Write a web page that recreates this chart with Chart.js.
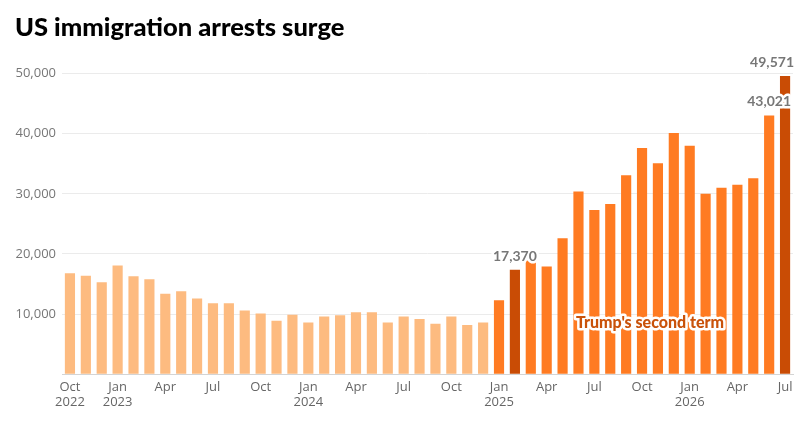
<!DOCTYPE html>
<html>
<head>
<meta charset="utf-8">
<script src="https://cdn.jsdelivr.net/npm/chart.js@4"></script>
<style>
  html, body { margin: 0; padding: 0; background: #fff; }
  #wrap { width: 812px; height: 426px; position: relative; }
</style>
</head>
<body>
<div id="wrap"><canvas id="chart"></canvas></div>
<script>
// ─── Data ───────────────────────────────────────────
var months = ['Oct', 'Nov', 'Dec',
  'Jan', 'Feb', 'Mar', 'Apr', 'May', 'Jun', 'Jul', 'Aug', 'Sep', 'Oct', 'Nov', 'Dec',
  'Jan', 'Feb', 'Mar', 'Apr', 'May', 'Jun', 'Jul', 'Aug', 'Sep', 'Oct', 'Nov', 'Dec',
  'Jan', 'Feb', 'Mar', 'Apr', 'May', 'Jun', 'Jul', 'Aug', 'Sep', 'Oct', 'Nov', 'Dec',
  'Jan', 'Feb', 'Mar', 'Apr', 'May', 'Jun', 'Jul'];
var years = ['2022', '', '',
  '2023', '', '', '', '', '', '', '', '', '', '', '',
  '2024', '', '', '', '', '', '', '', '', '', '', '',
  '2025', '', '', '', '', '', '', '', '', '', '', '',
  '2026', '', '', '', '', '', ''];
var arrests = [16800, 16400, 15300,
  18100, 16300, 15800, 13400, 13800, 12600, 11800, 11800, 10600, 10100, 8900, 9900,
  8600, 9600, 9800, 10300, 10300, 8600, 9600, 9200, 8400, 9600, 8200, 8600,
  12300, 17370, 18900, 17900, 22600, 30400, 27300, 28300, 33100, 37600, 35100, 40100,
  38000, 30000, 31000, 31500, 32600, 43021, 49571];
// periodo: 0 = antes, 1 = segundo mandato, 2 = destacado
var period = [0, 0, 0,
  0, 0, 0, 0, 0, 0, 0, 0, 0, 0, 0, 0,
  0, 0, 0, 0, 0, 0, 0, 0, 0, 0, 0, 0,
  1, 2, 1, 1, 1, 1, 1, 1, 1, 1, 1, 1,
  1, 1, 1, 1, 1, 1, 2];
var valueLabels = [28, 44, 45];   // indices with a number on top
var yTicks = [0, 10000, 20000, 30000, 40000, 50000];

var colors = ['#fdbb80', '#ff7b22', '#c94c05'];

// ─── Labels plugin ──────────────────────────────────
var labelsPlugin = {
  id: 'labels',
  afterDatasetsDraw: function (chart) {
    var ctx = chart.ctx;
    var meta = chart.getDatasetMeta(0);
    var xs = chart.scales.x, ys = chart.scales.y;
    ctx.save();
    ctx.lineJoin = 'round';

    // Trump's second term
    ctx.font = '900 16px Lato';
    ctx.textAlign = 'center';
    ctx.textBaseline = 'middle';
    var ax = (xs.getPixelForValue(36) + xs.getPixelForValue(37)) / 2;
    var ay = ys.getPixelForValue(8600);
    ctx.strokeStyle = '#fff';
    ctx.lineWidth = 5;
    ctx.strokeText("Trump's second term", ax, ay);
    ctx.fillStyle = '#c9520a';
    ctx.fillText("Trump's second term", ax, ay);

    // value labels
    ctx.font = 'bold 14px Lato';
    ctx.textBaseline = 'alphabetic';
    for (var k = 0; k < valueLabels.length; k++) {
      var i = valueLabels[k];
      var bar = meta.data[i];
      var txt = arrests[i].toLocaleString('en-US');
      var w = ctx.measureText(txt).width;
      var x = bar.x;
      if (x + w / 2 > chart.width - 18) x = chart.width - 18 - w / 2;
      var y = bar.y - 9;
      ctx.strokeStyle = '#fff';
      ctx.lineWidth = 5;
      ctx.strokeText(txt, x, y);
      ctx.fillStyle = '#777';
      ctx.fillText(txt, x, y);
    }
    ctx.restore();
  }
};

new Chart(document.getElementById('chart'), {
  type: 'bar',
  data: {
    labels: months,
    datasets: [{
      data: arrests,
      backgroundColor: period.map(function (p) { return colors[p]; }),
      barPercentage: 0.64,
      categoryPercentage: 1
    }]
  },
  options: {
    responsive: true,
    maintainAspectRatio: false,
    animation: false,
    layout: { padding: { left: 15, right: 19, top: 8, bottom: 10.5 } },
    plugins: {
      legend: { display: false },
      tooltip: { enabled: false },
      title: {
        display: true,
        // ZWNJ keeps Lato from joining "ti"
        text: 'US immigra\u200Ction arrests surge',
        align: 'start',
        color: '#000',
        font: { family: 'Lato', size: 25.5, weight: '900' },
        padding: { top: 4, bottom: 30.9 }
      }
    },
    scales: {
      x: {
        offset: true,
        grid: { display: false, drawTicks: false },
        border: { display: true, color: '#d4d4d4', width: 1 },
        ticks: {
          autoSkip: false,
          maxRotation: 0,
          padding: 5,
          color: '#666',
          font: { family: 'Open Sans', size: 13 },
          callback: function (v, i) {
            if (i % 3 !== 0) return null;
            return years[i] ? [months[i], years[i]] : months[i];
          }
        }
      },
      y: {
        min: 0,
        max: 50000,
        afterBuildTicks: function (axis) {
          axis.ticks = yTicks.map(function (v) { return { value: v }; });
        },
        afterFit: function (axis) { axis.width = 47; },
        border: { display: false },
        grid: { color: '#ebebeb', drawTicks: false },
        ticks: {
          padding: 6,
          color: '#777',
          font: { family: 'Open Sans', size: 13 },
          callback: function (v) { return v === 0 ? '' : v.toLocaleString('en-US'); }
        }
      }
    }
  },
  plugins: [labelsPlugin]
});
</script>
</body>
</html>
